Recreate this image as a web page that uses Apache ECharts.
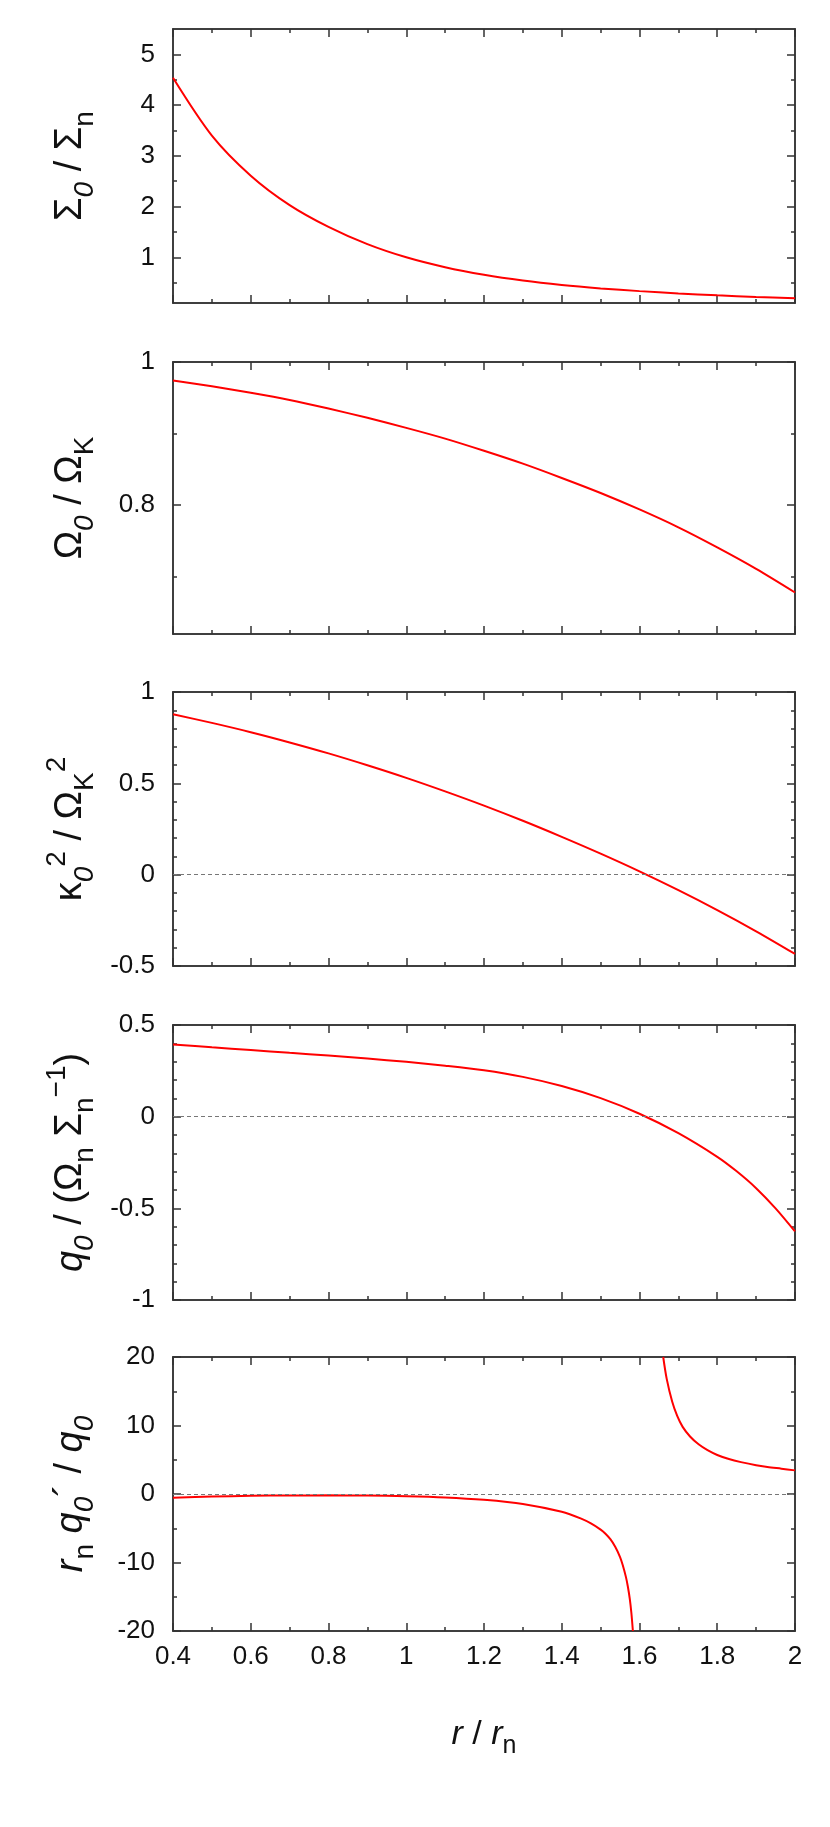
<!DOCTYPE html>
<html>
<head>
<meta charset="utf-8">
<script src="https://cdn.jsdelivr.net/npm/echarts@6/dist/echarts.min.js"></script>
<style>
  html, body { margin: 0; padding: 0; background: #fff; }
  #chart { width: 830px; height: 1827px; }
</style>
</head>
<body>
<div id="chart"></div>
<script>
// r / r_n sample points
const rVals = [0.4, 0.5, 0.6, 0.7, 0.8, 0.9, 1.0, 1.1, 1.2, 1.3, 1.4, 1.5, 1.6, 1.7, 1.8, 1.9, 2.0];

// panel values
const sigma0 = [4.54, 3.40, 2.61, 2.03, 1.60, 1.26, 1.0, 0.805, 0.656, 0.542, 0.455, 0.388, 0.334, 0.289, 0.251, 0.219, 0.193];
const omega0 = [0.974, 0.966, 0.957, 0.947, 0.935, 0.922, 0.908, 0.893, 0.876, 0.858, 0.838, 0.817, 0.794, 0.769, 0.741, 0.711, 0.678];
const kappa2 = [0.878, 0.831, 0.780, 0.724, 0.664, 0.599, 0.530, 0.456, 0.378, 0.295, 0.207, 0.115, 0.018, -0.085, -0.194, -0.310, -0.434];

const q0R = [0.4, 0.5, 0.6, 0.7, 0.8, 0.9, 1.0, 1.1, 1.2, 1.3, 1.4, 1.5, 1.6, 1.7, 1.8, 1.85, 1.9, 1.95, 2.0];
const q0 = [0.394, 0.378, 0.363, 0.348, 0.333, 0.317, 0.299, 0.278, 0.253, 0.217, 0.167, 0.101, 0.016, -0.090, -0.219, -0.298, -0.390, -0.500, -0.626];

// r_n q0' / q0 : two branches around the pole
const dlnqInnerR = [0.4, 0.5, 0.6, 0.7, 0.8, 0.9, 1.0, 1.1, 1.2, 1.3, 1.4, 1.45, 1.475, 1.5, 1.5125, 1.525, 1.5375, 1.55, 1.557, 1.565, 1.57, 1.575, 1.579, 1.583];
const dlnqInner = [-0.55, -0.38, -0.27, -0.21, -0.2, -0.23, -0.32, -0.5, -0.85, -1.45, -2.6, -3.6, -4.3, -5.2, -5.8, -6.6, -7.7, -9.2, -10.4, -12.1, -13.5, -15.3, -17.3, -20];
const dlnqOuterR = [1.661, 1.67, 1.684, 1.697, 1.711, 1.73, 1.752, 1.775, 1.8, 1.83, 1.861, 1.9, 1.929, 1.965, 2.0];
const dlnqOuter = [20, 16.8, 13.5, 11.4, 9.8, 8.4, 7.25, 6.4, 5.7, 5.1, 4.65, 4.2, 3.95, 3.7, 3.45];

// tick labels
const xMajor = [0.4, 0.6, 0.8, 1.0, 1.2, 1.4, 1.6, 1.8, 2.0];
const xMinor = [0.5, 0.7, 0.9, 1.1, 1.3, 1.5, 1.7, 1.9];
const yTicks = [
  {min: 0.1, max: 5.5, major: [1, 2, 3, 4, 5], minor: [0.5, 1.5, 2.5, 3.5, 4.5]},
  {min: 0.62, max: 1, major: [0.8, 1], minor: [0.7, 0.9]},
  {min: -0.5, max: 1, major: [-0.5, 0, 0.5, 1], minor: [-0.4, -0.3, -0.2, -0.1, 0.1, 0.2, 0.3, 0.4, 0.6, 0.7, 0.8, 0.9]},
  {min: -1, max: 0.5, major: [-1, -0.5, 0, 0.5], minor: [-0.9, -0.8, -0.7, -0.6, -0.4, -0.3, -0.2, -0.1, 0.1, 0.2, 0.3, 0.4]},
  {min: -20, max: 20, major: [-20, -10, 0, 10, 20], minor: [-15, -5, 5, 15]}
];

const FONT = '"Liberation Sans", Arial, sans-serif';
const frame = {color: '#333', width: 1.5};

const rich = {
  a: {fontSize: 38, lineHeight: 56, fontFamily: FONT, color: '#111', verticalAlign: 'middle'},
  it: {fontSize: 38, lineHeight: 56, fontFamily: FONT, fontStyle: 'italic', color: '#111', verticalAlign: 'middle'},
  sub: {fontSize: 28, lineHeight: 28, fontFamily: FONT, color: '#111', verticalAlign: 'bottom'},
  subi: {fontSize: 28, lineHeight: 28, fontFamily: FONT, fontStyle: 'italic', color: '#111', verticalAlign: 'bottom'},
  sup: {fontSize: 28, lineHeight: 28, fontFamily: FONT, color: '#111', verticalAlign: 'top'}
};

const yNames = [
  '{a|Σ}{subi|0}{a| / Σ}{sub|n}',
  '{a|Ω}{subi|0}{a| / Ω}{sub|K}',
  '{a|κ}{subi|0}{sup|2}{a| / Ω}{sub|K}{sup|2}',
  '{it|q}{subi|0}{a| / (Ω}{sub|n}{a| Σ}{sub|n}{sup|−1}{a|)}',
  '{it|r}{sub|n}{a| }{it|q}{subi|0}{a|´ / }{it|q}{subi|0}'
];

const gridTops = [29, 362, 692, 1025, 1357];
const gridHeights = [274, 272, 274, 275, 274];

const grids = gridTops.map((t, i) => ({left: 173, width: 622, top: t, height: gridHeights[i]}));

// 4 axes per grid and dimension: major/minor on both sides
const makeAxes = (gi, min, max, major, minor, sides, opts) => {
  const out = [];
  sides.forEach((pos, si) => {
    [major, minor].forEach((vals, k) => {
      const isMain = si === 0 && k === 0;
      out.push({
        type: 'value', gridIndex: gi, position: pos, min, max,
        splitLine: {show: false},
        axisLine: {show: true, onZero: false, lineStyle: frame},
        axisTick: {show: true, inside: true, length: k === 0 ? 8 : 4, customValues: vals, lineStyle: frame},
        axisLabel: isMain && opts.labels
          ? {show: true, customValues: major, margin: opts.margin, fontSize: 26, fontFamily: FONT, color: '#111'}
          : {show: false},
        ...(isMain ? opts.extra : {})
      });
    });
  });
  return out;
};

const xAxes = [];
const yAxes = [];
yTicks.forEach((t, gi) => {
  const last = gi === yTicks.length - 1;
  xAxes.push(...makeAxes(gi, 0.4, 2, xMajor, xMinor, ['bottom', 'top'], {
    labels: last, margin: 13,
    extra: last ? {
      name: '{it|r}{a| / }{it|r}{sub|n}', nameLocation: 'middle', nameGap: 80,
      nameTextStyle: {rich: {
        a: {...rich.a, fontSize: 34, lineHeight: 48},
        it: {...rich.it, fontSize: 34, lineHeight: 48},
        sub: {...rich.sub, fontSize: 25, lineHeight: 25}
      }}
    } : {}
  }));
  yAxes.push(...makeAxes(gi, t.min, t.max, t.major, t.minor, ['left', 'right'], {
    labels: true, margin: 18,
    extra: {
      name: yNames[gi], nameLocation: 'middle', nameRotate: 90, nameGap: 74,
      nameTextStyle: {rich}
    }
  }));
});

const zeroLine = {
  silent: true, symbol: 'none', label: {show: false},
  lineStyle: {type: [4, 3], color: '#777', width: 1},
  data: [{yAxis: 0}]
};

const curve = (gi, xs, ys, withZero) => ({
  type: 'line', xAxisIndex: gi * 4, yAxisIndex: gi * 4,
  data: xs.map((x, i) => [x, ys[i]]),
  showSymbol: false, smooth: 0.3, clip: true,
  lineStyle: {color: '#f00', width: 2}, itemStyle: {color: '#f00'},
  markLine: withZero ? zeroLine : undefined
});

const chart = echarts.init(document.getElementById('chart'));
chart.setOption({
  animation: false,
  backgroundColor: '#fff',
  grid: grids,
  xAxis: xAxes,
  yAxis: yAxes,
  series: [
    curve(0, rVals, sigma0, false),
    curve(1, rVals, omega0, false),
    curve(2, rVals, kappa2, true),
    curve(3, q0R, q0, true),
    curve(4, dlnqInnerR, dlnqInner, true),
    curve(4, dlnqOuterR, dlnqOuter, false)
  ]
});
</script>
</body>
</html>
